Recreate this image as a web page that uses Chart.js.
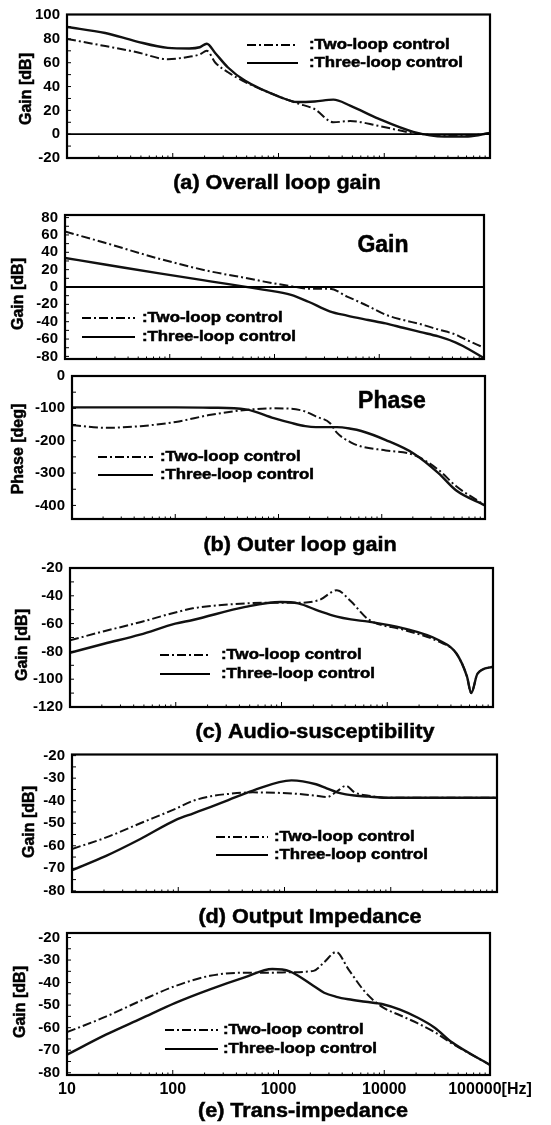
<!DOCTYPE html>
<html><head><meta charset="utf-8">
<script src="https://cdn.jsdelivr.net/npm/chart.js@4.4.0/dist/chart.umd.min.js"></script>
<style>
html,body{margin:0;padding:0;background:#fff;width:551px;height:1125px;overflow:hidden;position:relative}
canvas{position:absolute;left:0}
</style></head><body>
<canvas id="cA"></canvas><canvas id="cBG"></canvas><canvas id="cBP"></canvas>
<canvas id="cC"></canvas><canvas id="cD"></canvas><canvas id="cE"></canvas>
<script>
// ---------------- data ----------------
const seriesNames = [':Two-loop control', ':Three-loop control'];
const xTickValues = [10, 100, 1000, 10000, 100000];
const xTickLabels = ['10', '100', '1000', '10000', '100000[Hz]'];

// (a) Overall loop gain
const freqA = [10, 23, 45, 90, 143, 180, 210, 253, 333, 480, 1050, 1500, 2200, 3300, 4750, 8800, 18800, 37000, 62000, 100000];
const twoA = [80, 74, 69, 63, 65, 67, 70, 60, 52, 44, 31, 26, 21, 10, 11, 7, 1, -1, -1, 1];
const threeA = [90, 85, 78, 72.5, 72, 73, 76, 68, 56, 45, 31, 27, 27.5, 29, 24, 13, 2, -2, -2, 1];
const yTicksA = [100, 80, 60, 40, 20, 0, -20];

// (b) Outer loop gain - Gain
const freqBG = [10, 24, 77, 244, 615, 775, 1440, 2110, 3360, 4930, 7830, 11500, 16900, 24900, 36700, 53900, 63000, 100000];
const twoBG = [64, 51, 33, 18, 9, 6.5, 1, -2, -2, -11, -22, -32, -38, -43, -49, -55, -59, -70];
const threeBG = [33.5, 26, 16, 6.5, -1, -3, -9, -17, -28, -33, -38, -42, -47, -52, -57, -64, -68, -82];
const yTicksBG = [80, 60, 40, 20, 0, -20, -40, -60, -80];

// (b) Outer loop gain - Phase
const freqBP = [10, 21, 46, 101, 221, 482, 900, 1330, 1820, 2300, 3140, 3670, 5010, 6340, 10960, 20500, 35400, 52300, 100000];
const twoBP = [-152, -160, -155, -142, -120, -105, -100, -101, -110, -125, -145, -175, -205, -218, -230, -244, -290, -340, -400];
const threeBP = [-97, -97, -97, -97, -98, -103, -130, -145, -155, -158, -158, -158, -163, -170, -198, -240, -300, -353, -400];
const yTicksBP = [0, -100, -200, -300, -400];

// (c) Audio-susceptibility
const freqC = [10, 21, 46, 99, 145, 456, 982, 1440, 2280, 3340, 4530, 6650, 14300, 30800, 45100, 56700, 62200, 71400, 100000];
const twoC = [-72, -65.5, -59, -52, -49, -45.5, -45, -45, -43, -36, -44, -57, -64.5, -73, -81.5, -98, -110, -96, -91];
const threeC = [-81, -74.5, -68, -60, -57.4, -48, -44.5, -45.5, -51, -55, -57, -58.6, -63.4, -72, -81.5, -98, -110, -96, -91];
const yTicksC = [-20, -40, -60, -80, -100, -120];

// (d) Output Impedance
const freqD = [10, 20.7, 44, 95, 139, 203, 296, 505, 1165, 1980, 2490, 3130, 3780, 4570, 6200, 9060, 100000];
const twoD = [-61.4, -56.4, -50, -43.5, -40, -38, -37, -36.3, -36.8, -37.8, -38.4, -35.8, -33.4, -36.3, -37.8, -38.7, -38.7];
const threeD = [-70.8, -64.6, -57, -48.5, -45.6, -42.7, -39.7, -35.5, -31, -32.7, -34.5, -36.3, -37.2, -37.7, -38.2, -38.7, -38.7];
const yTicksD = [-20, -30, -40, -50, -60, -70, -80];

// (e) Trans-impedance
const freqE = [10, 23.6, 50, 106, 225, 478, 873, 1274, 2150, 2700, 3520, 4570, 6660, 9700, 14100, 20600, 30000, 43700, 100000];
const twoE = [-62, -55, -48, -41.5, -37, -35.6, -35.6, -35.4, -34.8, -31, -26.4, -34, -44.4, -51, -54.5, -58, -62, -67, -76.5];
const threeE = [-72, -63, -56, -49, -43, -37.7, -34, -35, -41.5, -44.5, -46.3, -47.4, -48.5, -49.6, -52, -55.5, -60, -66.5, -76.5];
const yTicksE = [-20, -30, -40, -50, -60, -70, -80];

// ---------------- drawing ----------------
const FAM = '"Liberation Sans", Arial, Helvetica, sans-serif';
const DASH = [9, 3, 2, 3];
function txt(ctx, s, x, y, size, align, rot, sx) {
  ctx.save();
  ctx.font = 'bold ' + size + 'px ' + FAM;
  ctx.fillStyle = '#000';
  ctx.strokeStyle = '#000';
  ctx.lineWidth = 0.5;
  ctx.textAlign = align || 'left';
  ctx.textBaseline = 'middle';
  ctx.translate(x, y);
  if (rot) ctx.rotate(rot);
  if (sx) ctx.scale(sx, 1);
  ctx.fillText(s, 0, 0);
  ctx.strokeText(s, 0, 0);
  ctx.restore();
}

const decor = {
  id: 'decor',
  afterDraw(chart, args, o) {
    const ctx = chart.ctx, a = chart.chartArea, xs = chart.scales.x, ys = chart.scales.y;
    const off = o.offset;
    ctx.save();
    ctx.strokeStyle = '#000';
    if (o.zero) {
      const py = ys.getPixelForValue(0);
      ctx.lineWidth = 1.8;
      ctx.beginPath(); ctx.moveTo(a.left, py); ctx.lineTo(a.right, py); ctx.stroke();
    }
    ctx.lineWidth = 1;
    ctx.beginPath();
    const yt = o.yticks, step = Math.abs(yt[0] - yt[1]) / 2;
    for (let v = Math.min(...yt); v <= Math.max(...yt) + 1e-9; v += step) {
      const py = ys.getPixelForValue(v);
      if (py < a.top + 1 || py > a.bottom - 1) continue;
      ctx.moveTo(a.left, py); ctx.lineTo(a.left + 4, py);
    }
    for (let d = 10; d <= 100000; d *= 10) {
      for (let m = 1; m < 10; m++) {
        const v = d * m; if (v > 100000) break;
        const px = xs.getPixelForValue(v);
        if (px < a.left + 1 || px > a.right - 1) continue;
        const len = m === 1 ? 5 : 2.5;
        ctx.moveTo(px, a.bottom); ctx.lineTo(px, a.bottom - len);
      }
    }
    ctx.stroke();
    ctx.lineWidth = 2.2;
    ctx.strokeRect(a.left, a.top, a.right - a.left, a.bottom - a.top);
    const L = o.legend;
    [L.y1, L.y2].forEach((yy, i) => {
      const py = yy - off;
      ctx.save();
      ctx.lineWidth = i === 0 ? 2 : 2.2;
      ctx.setLineDash(i === 0 ? DASH : []);
      ctx.beginPath(); ctx.moveTo(L.x1, py); ctx.lineTo(L.x2, py); ctx.stroke();
      ctx.restore();
      txt(ctx, seriesNames[i], L.tx, py, 14, 'left', 0, 1.2);
    });
    txt(ctx, o.yTitle.text, o.yTitle.x, o.yTitle.y - off, 16, 'center', -Math.PI / 2);
    if (o.tag) txt(ctx, o.tag.text, o.tag.x, o.tag.y - off, 23, 'center');
    if (o.title) txt(ctx, o.title.text, o.title.x, o.title.y - off, 20, 'center', 0, 1.08);
    ctx.restore();
  }
};
Chart.register(decor);

function makePanel(p) {
  const cv = document.getElementById(p.id);
  cv.width = 551; cv.height = p.h; cv.style.top = p.top + 'px';
  const xh = p.showX ? 30 : 0;
  const tickFont = { family: FAM, weight: 'bold', size: 15, lineHeight: 1 };
  new Chart(cv, {
    type: 'line',
    data: {
      datasets: [
        { label: seriesNames[0], data: p.freq.map((f, i) => ({ x: f, y: p.two[i] })),
          borderColor: '#111', borderWidth: 2, borderDash: DASH, pointRadius: 0, fill: false, cubicInterpolationMode: 'monotone' },
        { label: seriesNames[1], data: p.freq.map((f, i) => ({ x: f, y: p.three[i] })),
          borderColor: '#111', borderWidth: 2.4, pointRadius: 0, fill: false, cubicInterpolationMode: 'monotone' }
      ]
    },
    options: {
      responsive: false, animation: false, devicePixelRatio: 1,
      layout: { padding: { left: 0, right: 551 - p.box.r, top: p.box.t - p.top, bottom: (p.top + p.h) - p.box.b - xh } },
      plugins: {
        legend: { display: false }, tooltip: { enabled: false },
        decor: { offset: p.top, zero: p.zero, yticks: p.yticks, legend: p.legend, yTitle: p.yTitle, tag: p.tag, title: p.title }
      },
      scales: {
        x: {
          type: 'logarithmic', min: 10, max: 100000,
          afterFit(s) { s.height = xh; },
          afterBuildTicks(s) { s.ticks = xTickValues.map(v => ({ value: v })); },
          grid: { display: false, drawTicks: false }, border: { display: false },
          ticks: { display: !!p.showX, autoSkip: false, maxRotation: 0, padding: 7, color: '#000',
            font: { family: FAM, weight: 'bold', size: 16, lineHeight: 1 },
            callback: (v) => { const i = xTickValues.indexOf(v); return i >= 0 ? xTickLabels[i] : ''; } }
        },
        y: {
          min: p.ymin, max: p.ymax,
          afterFit(s) { s.width = p.box.l; },
          afterBuildTicks(s) { s.ticks = p.yticks.map(v => ({ value: v })); },
          grid: { display: false, drawTicks: false }, border: { display: false },
          ticks: { color: '#000', padding: 7, font: tickFont }
        }
      }
    }
  });
}

const panels = [
  { id: 'cA', top: 0, h: 200, box: { l: 67, r: 490, t: 14, b: 158 }, ymin: -20, ymax: 100.5, yticks: yTicksA,
    freq: freqA, two: twoA, three: threeA, zero: true,
    legend: { x1: 247, x2: 298, tx: 309, y1: 45, y2: 63 },
    yTitle: { text: 'Gain [dB]', x: 27, y: 89 }, title: { text: '(a) Overall loop gain', x: 277, y: 183 } },
  { id: 'cBG', top: 190, h: 185, box: { l: 65, r: 484, t: 215, b: 359 }, ymin: -83, ymax: 83, yticks: yTicksBG,
    freq: freqBG, two: twoBG, three: threeBG, zero: true,
    legend: { x1: 82, x2: 135, tx: 142, y1: 318, y2: 337 },
    yTitle: { text: 'Gain [dB]', x: 19, y: 294 }, tag: { text: 'Gain', x: 383, y: 246 } },
  { id: 'cBP', top: 360, h: 200, box: { l: 72, r: 485, t: 376, b: 519 }, ymin: -442, ymax: 0, yticks: yTicksBP,
    freq: freqBP, two: twoBP, three: threeBP, zero: false,
    legend: { x1: 98, x2: 153, tx: 160, y1: 457, y2: 475 },
    yTitle: { text: 'Phase [deg]', x: 19, y: 449 }, tag: { text: 'Phase', x: 392, y: 402 },
    title: { text: '(b) Outer loop gain', x: 300, y: 545 } },
  { id: 'cC', top: 552, h: 190, box: { l: 70, r: 493, t: 568, b: 707 }, ymin: -120, ymax: -20, yticks: yTicksC,
    freq: freqC, two: twoC, three: threeC, zero: false,
    legend: { x1: 160, x2: 210, tx: 221, y1: 655, y2: 674 },
    yTitle: { text: 'Gain [dB]', x: 23, y: 645 }, title: { text: '(c) Audio-susceptibility', x: 315, y: 732 } },
  { id: 'cD', top: 740, h: 190, box: { l: 72, r: 497, t: 753, b: 892 }, ymin: -80.5, ymax: -19.5, yticks: yTicksD,
    freq: freqD, two: twoD, three: threeD, zero: false,
    legend: { x1: 216, x2: 268, tx: 274, y1: 837, y2: 855 },
    yTitle: { text: 'Gain [dB]', x: 30, y: 822 }, title: { text: '(d) Output Impedance', x: 310, y: 917 } },
  { id: 'cE', top: 915, h: 210, box: { l: 67, r: 490, t: 933, b: 1075 }, ymin: -81, ymax: -18, yticks: yTicksE,
    freq: freqE, two: twoE, three: threeE, zero: false, showX: true,
    legend: { x1: 165, x2: 218, tx: 223, y1: 1030, y2: 1049 },
    yTitle: { text: 'Gain [dB]', x: 21, y: 1002 }, title: { text: '(e) Trans-impedance', x: 303, y: 1111 } }
];
panels.forEach(makePanel);
</script>
</body></html>
